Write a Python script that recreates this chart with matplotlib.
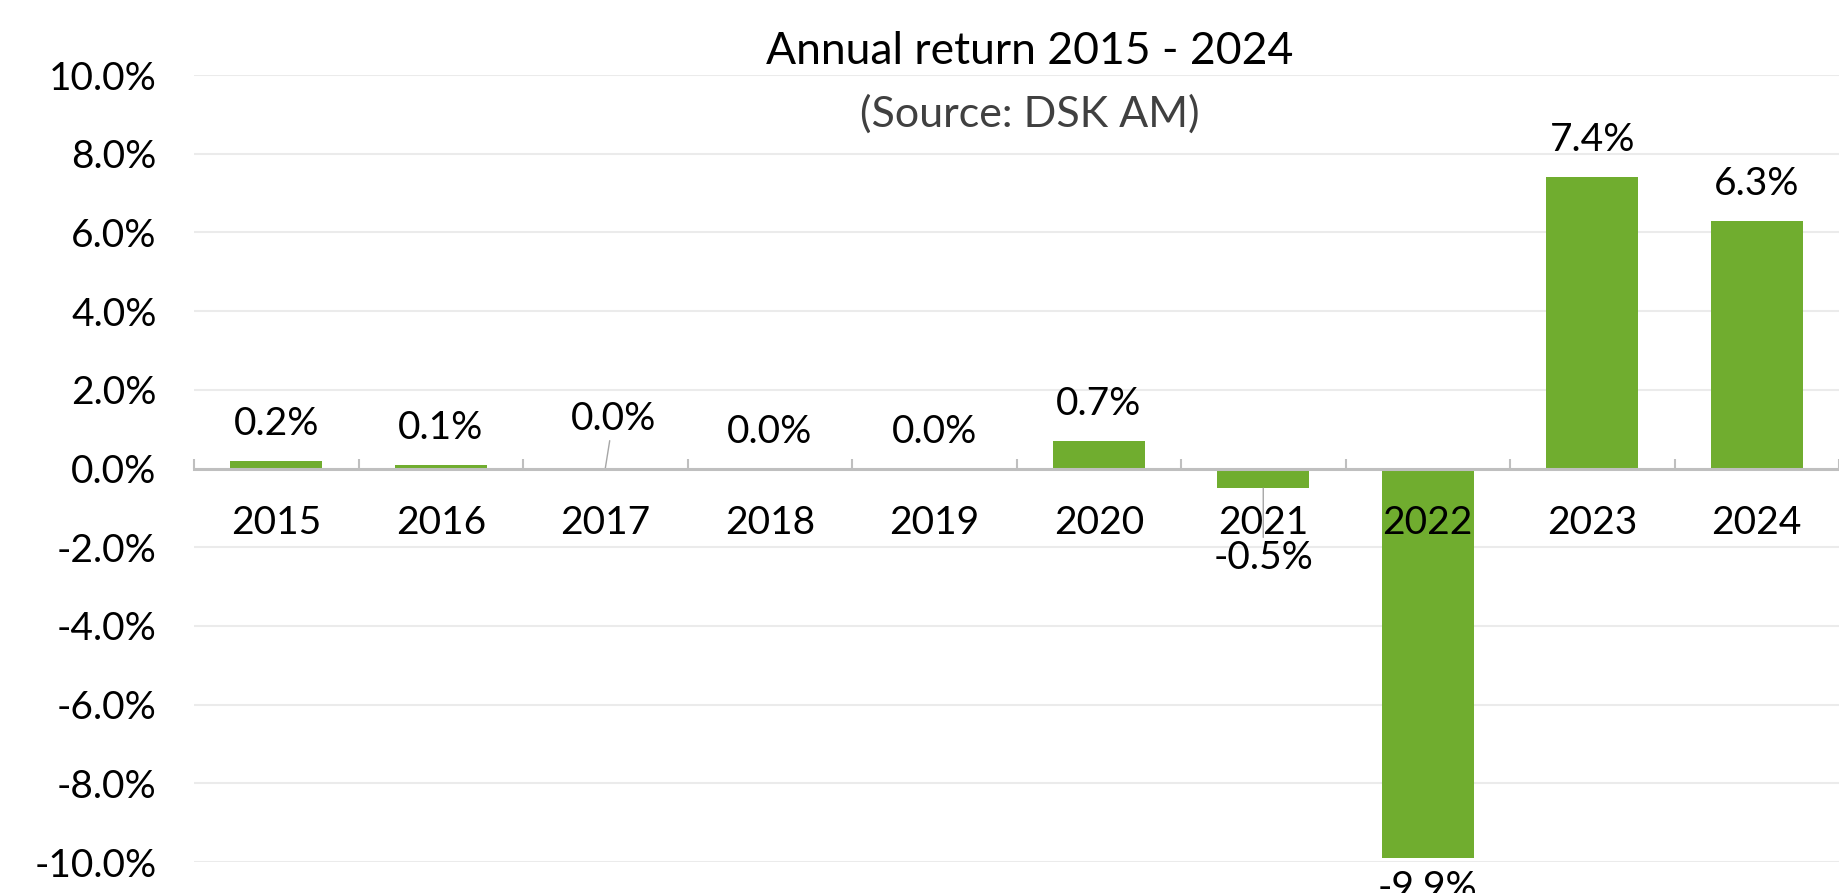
import matplotlib
matplotlib.use('Agg')
import matplotlib.pyplot as plt
from matplotlib.ticker import FuncFormatter
import numpy as np

# data
years = ['2015', '2016', '2017', '2018', '2019', '2020', '2021', '2022', '2023', '2024']
returns = [0.2, 0.1, 0.0, 0.0, 0.0, 0.7, -0.5, -9.9, 7.4, 6.3]
title = 'Annual return 2015 - 2024'
subtitle = '(Source: DSK AM)'

plt.rcParams['font.family'] = ['Lato', 'DejaVu Sans']

GREEN = '#70AD2F'
FS = 28

fig = plt.figure(figsize=(18.39, 8.93), dpi=100)
ax = fig.add_axes([0.1055, 0.0347, 0.8945, 0.8813])

x = np.arange(len(years))
ax.bar(x, returns, width=0.56, color=GREEN, zorder=2)

ax.set_xlim(-0.5, len(years) - 0.5)
ax.set_ylim(-10, 10)
yt = np.arange(-10, 10.1, 2)
ax.set_yticks(yt)
ax.yaxis.set_major_formatter(FuncFormatter(lambda v, p: '%.1f%%' % v))
# gridlines drawn behind the bars, axis labels drawn on top
for t in yt:
    ax.axhline(t, color='#EBEBEB', linewidth=1.5, zorder=0)
ax.set_axisbelow(False)

for s in ['top', 'right', 'left']:
    ax.spines[s].set_visible(False)
ax.spines['bottom'].set_position(('data', 0))
ax.spines['bottom'].set_color('#BFBFBF')
ax.spines['bottom'].set_linewidth(2.2)
ax.spines['bottom'].set_zorder(4)

ax.set_xticks(x)
ax.set_xticklabels(years)
ax.set_xticks(np.arange(-0.5, len(years), 1), minor=True)
ax.tick_params(axis='x', which='major', length=0, pad=26, labelsize=FS)
ax.tick_params(axis='x', which='minor', direction='in', length=7, width=1.5, color='#BFBFBF')
ax.tick_params(axis='y', length=0, pad=27, labelsize=FS)

# data labels
for i, v in enumerate(returns):
    lab = '%.1f%%' % v
    if years[i] == '2017':
        ax.annotate(lab, xy=(i, v), xytext=(8, 50), textcoords='offset pixels',
                    ha='center', va='center', fontsize=FS,
                    arrowprops=dict(arrowstyle='-', color='#A6A6A6', lw=1, shrinkA=1, shrinkB=0))
    elif years[i] == '2021':
        ax.annotate(lab, xy=(i, v), xytext=(0, -70), textcoords='offset pixels',
                    ha='center', va='center', fontsize=FS, zorder=5,
                    arrowprops=dict(arrowstyle='-', color='#A6A6A6', lw=1, shrinkA=0, shrinkB=0))
    elif v >= 0:
        ax.annotate(lab, xy=(i, v), xytext=(0, 37), textcoords='offset pixels',
                    ha='center', va='center', fontsize=FS)
    else:
        ax.annotate(lab, xy=(i, v), xytext=(0, -30), textcoords='offset pixels',
                    ha='center', va='center', fontsize=FS, annotation_clip=False)

fig.text(0.56, 1 - 52 / 893, title, ha='center', va='center', fontsize=32)
fig.text(0.56, 1 - 114 / 893, subtitle, ha='center', va='center', fontsize=31, color='#404040')

fig.savefig('out.png', dpi=100)
